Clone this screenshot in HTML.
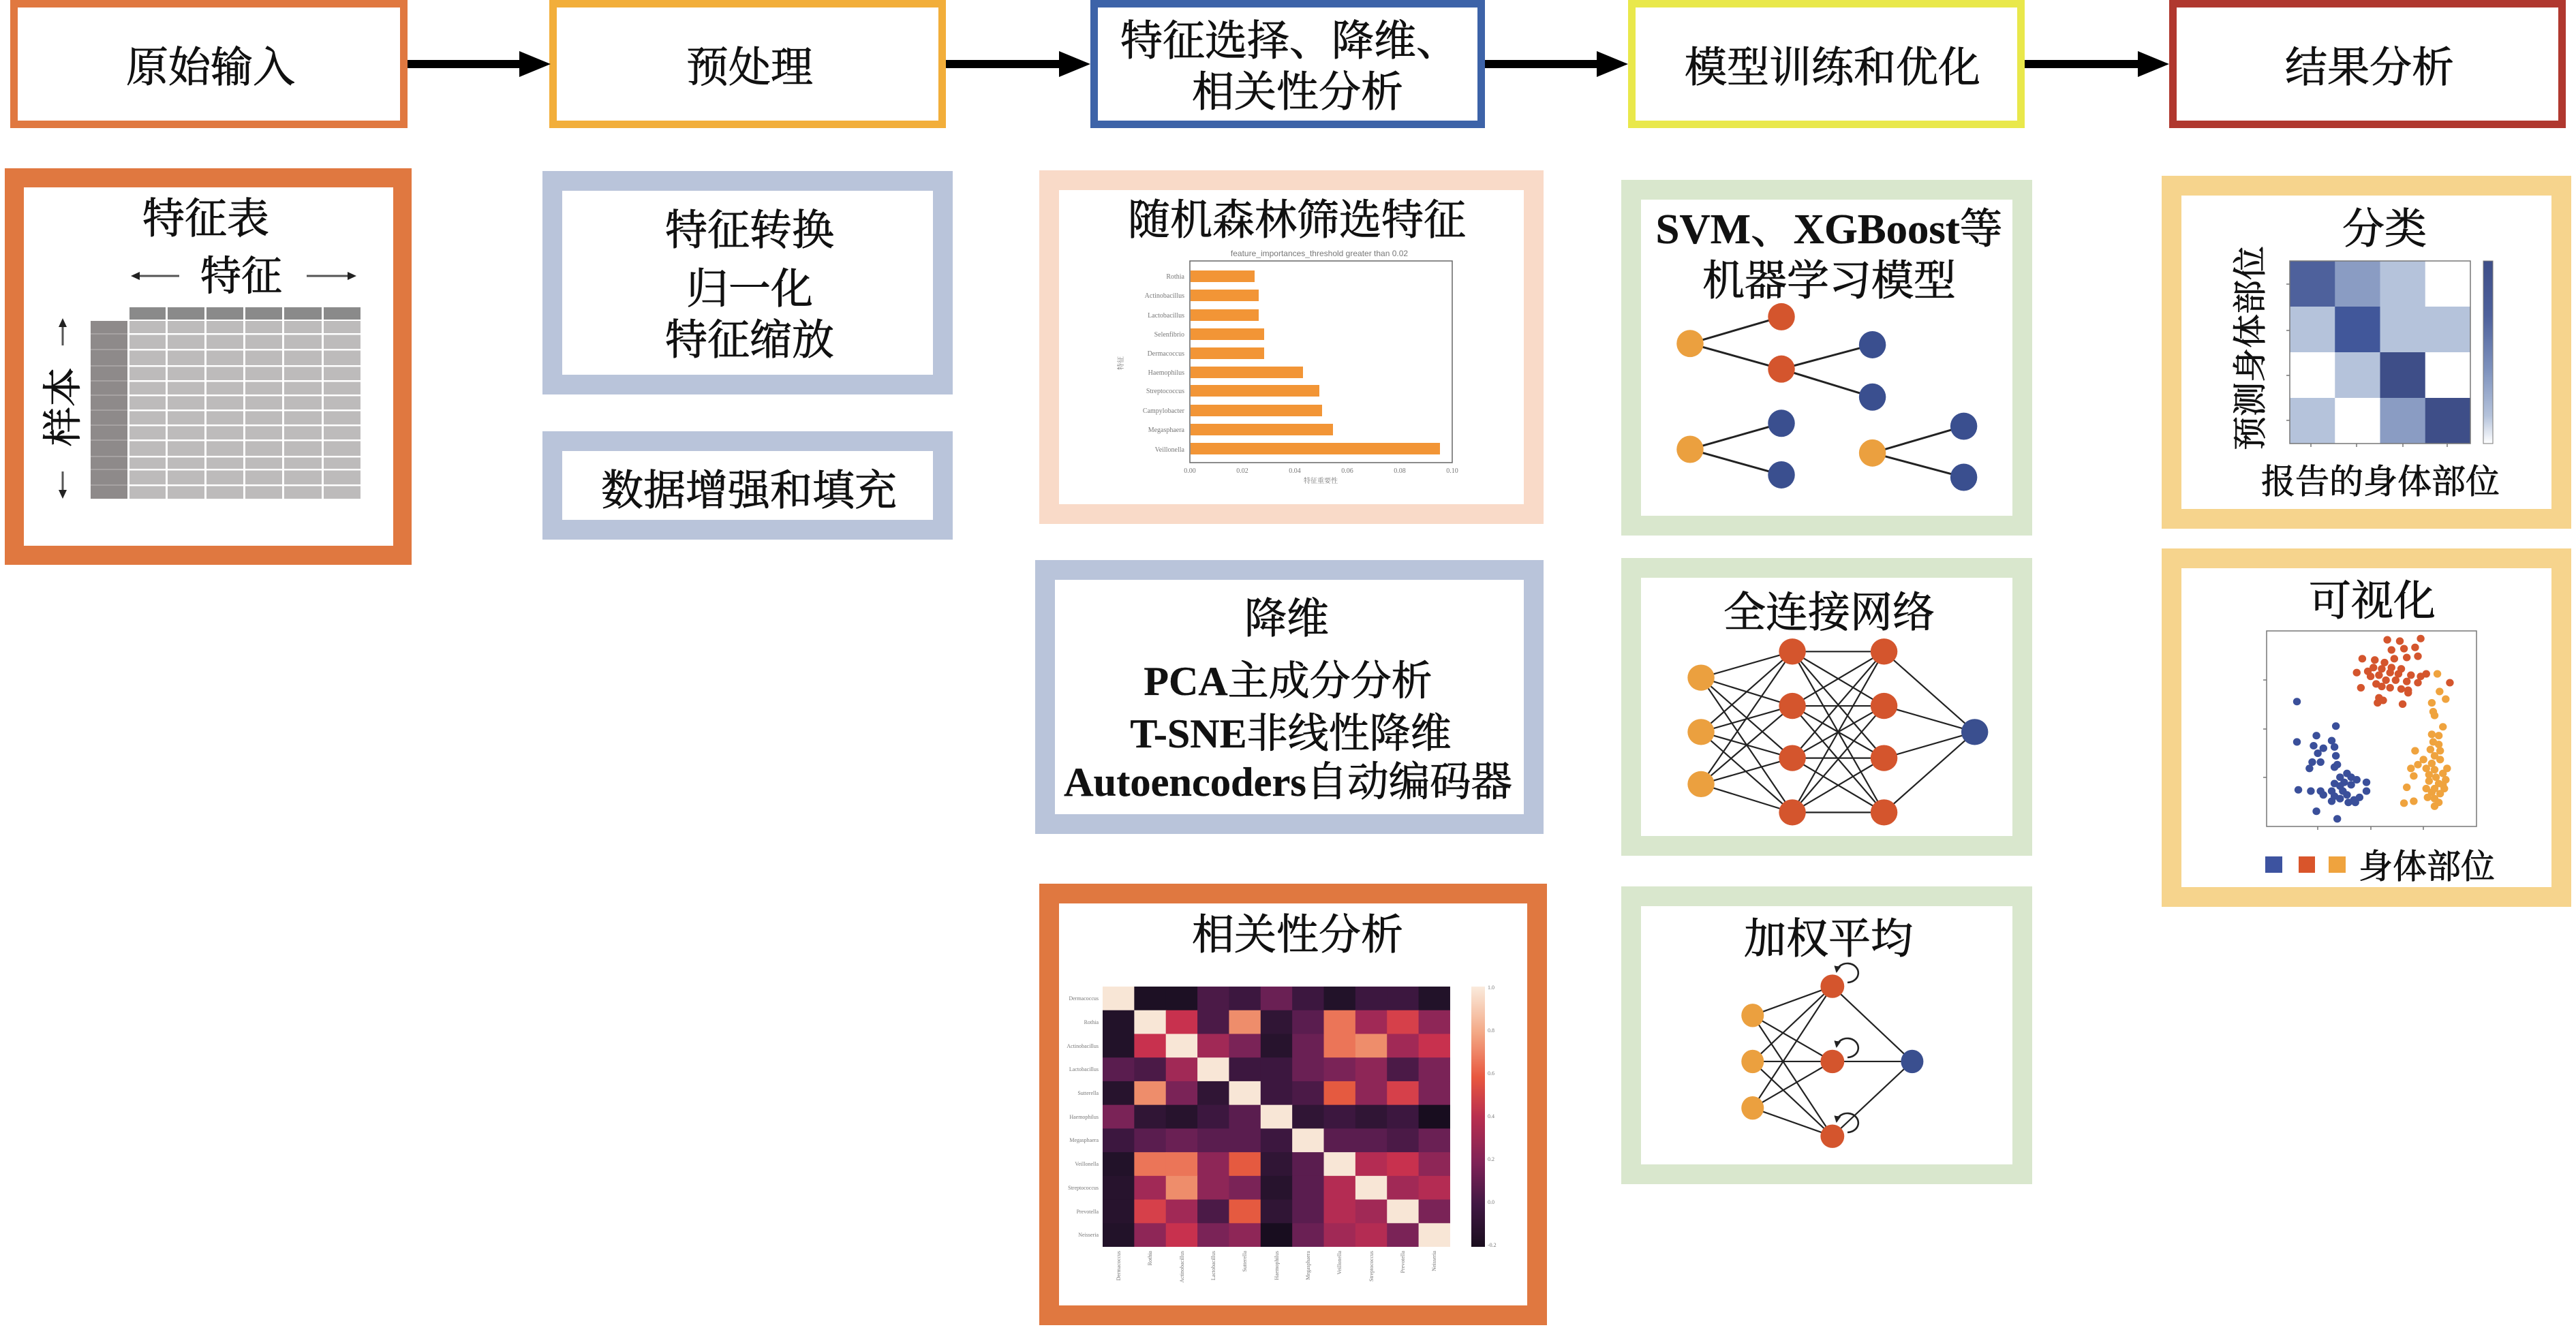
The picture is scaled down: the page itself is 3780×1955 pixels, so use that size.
<!DOCTYPE html>
<html><head><meta charset="utf-8">
<style>
html,body{margin:0;padding:0;background:#fff;}
svg{display:block;}
text{font-family:"Liberation Serif","Noto Serif CJK SC",serif;}
.t{font-size:62px;fill:#111;text-anchor:middle;stroke:#111;stroke-width:0.9px;}
.b{font-weight:bold;stroke-width:0.3px;}
.s{font-family:"Liberation Sans","Noto Sans CJK SC",sans-serif;fill:#777;}
.c{fill:#F8E6D6}.h8{fill:#EE8D6B}.h75{fill:#EB7558}.h7{fill:#E55A40}.h65{fill:#D6404A}.h6{fill:#C8314E}.h55{fill:#B42C53}.h5{fill:#A12956}.h45{fill:#8E2657}.h4{fill:#7A2357}.h35{fill:#6A2054}.h3{fill:#5A1D4F}.h25{fill:#4B1A47}.h2{fill:#3C173F}.h15{fill:#301535}.h1{fill:#27132D}.h08{fill:#221229}.h05{fill:#1D1024}.h02{fill:#180D1F}
.ln{stroke:#222;stroke-width:2.6;fill:none;}
.or{fill:#EBA03F}.rd{fill:#D4552D}.bl{fill:#3A4F8F}
</style></head><body>
<svg width="3780" height="1955" viewBox="0 0 3780 1955" xmlns="http://www.w3.org/2000/svg">
<defs>
<marker id="ah" viewBox="0 0 10 10" refX="8" refY="5" markerWidth="10" markerHeight="10" markerUnits="userSpaceOnUse" orient="auto"><path d="M0,0 L10,5 L0,10 z" fill="#222"/></marker>
<linearGradient id="cbg" x1="0" y1="0" x2="0" y2="1">
<stop offset="0" stop-color="#FAEBDD"/><stop offset="0.18" stop-color="#F3A784"/><stop offset="0.35" stop-color="#E8573F"/><stop offset="0.5" stop-color="#B92F4F"/><stop offset="0.68" stop-color="#7E2257"/><stop offset="0.84" stop-color="#401843"/><stop offset="1" stop-color="#1A0E1E"/>
</linearGradient>
<linearGradient id="cbb" x1="0" y1="0" x2="0" y2="1">
<stop offset="0" stop-color="#3E4E88"/><stop offset="0.3" stop-color="#4E619C"/><stop offset="0.6" stop-color="#7F93BE"/><stop offset="0.85" stop-color="#B5C3DB"/><stop offset="1" stop-color="#FFFFFF"/>
</linearGradient>
</defs>

<!-- Header boxes -->
<rect x="15" y="0" width="583" height="188" fill="#E07840"/><rect x="26" y="11" width="561" height="166" fill="#fff"/>
<rect x="806" y="0" width="582" height="188" fill="#F2AE3A"/><rect x="817" y="11" width="560" height="166" fill="#fff"/>
<rect x="1600" y="0" width="579" height="188" fill="#3D63A8"/><rect x="1611" y="11" width="557" height="166" fill="#fff"/>
<rect x="2389" y="0" width="582" height="188" fill="#E9E84B"/><rect x="2400" y="11" width="560" height="166" fill="#fff"/>
<rect x="3183" y="0" width="582" height="188" fill="#B0382F"/><rect x="3194" y="11" width="560" height="166" fill="#fff"/>

<text class="t" x="309" y="120">原始输入</text>
<text class="t" x="1100" y="120">预处理</text>
<text class="t" x="1892" y="81">特征选择、降维、</text>
<text class="t" x="1904" y="156">相关性分析</text>
<text class="t" x="2689" y="120">模型训练和优化</text>
<text class="t" x="3477" y="120">结果分析</text>

<!-- Header arrows -->
<rect x="598" y="88" width="168" height="12" fill="#000"/><polygon points="762,75 808,94 762,113" fill="#000"/>
<rect x="1388" y="88" width="168" height="12" fill="#000"/><polygon points="1554,75 1600,94 1554,113" fill="#000"/>
<rect x="2179" y="88" width="166" height="12" fill="#000"/><polygon points="2343,75 2389,94 2343,113" fill="#000"/>
<rect x="2971" y="88" width="166" height="12" fill="#000"/><polygon points="3137,75 3183,94 3137,113" fill="#000"/>

<!-- Column 1: feature table -->
<rect x="7" y="247" width="597" height="582" fill="#E07840"/><rect x="35" y="275" width="542" height="526" fill="#fff"/>
<text class="t" x="302" y="342">特征表</text>
<text class="t" x="354" y="426" style="font-size:60px">特征</text>
<line x1="263" y1="405" x2="202" y2="405" stroke="#555" stroke-width="3"/><polygon points="192,405 205,399 205,411" fill="#222"/>
<line x1="450" y1="405" x2="512" y2="405" stroke="#555" stroke-width="3"/><polygon points="523,405 510,399 510,411" fill="#222"/>
<rect x="190" y="451" width="339" height="18" fill="#8A8A8A"/>
<rect x="133" y="471" width="54" height="261" fill="#8E8A8A"/>
<rect x="190" y="471" width="339" height="261" fill="#BDBBBB"/>
<g fill="#fff">
<rect x="243" y="451" width="3" height="281"/><rect x="300" y="451" width="3" height="281"/><rect x="357" y="451" width="3" height="281"/><rect x="414" y="451" width="3" height="281"/><rect x="472" y="451" width="3" height="281"/>
<rect x="190" y="489" width="339" height="2.5"/><rect x="190" y="512" width="339" height="2.5"/><rect x="190" y="536" width="339" height="2.5"/><rect x="190" y="558" width="339" height="2.5"/><rect x="190" y="579" width="339" height="2.5"/><rect x="190" y="601" width="339" height="2.5"/><rect x="190" y="623" width="339" height="2.5"/><rect x="190" y="645" width="339" height="2.5"/><rect x="190" y="669" width="339" height="2.5"/><rect x="190" y="688" width="339" height="2.5"/><rect x="190" y="711" width="339" height="2.5"/>
</g>
<g fill="#A6A2A2">
<rect x="133" y="489" width="54" height="2"/><rect x="133" y="512" width="54" height="2"/><rect x="133" y="536" width="54" height="2"/><rect x="133" y="558" width="54" height="2"/><rect x="133" y="579" width="54" height="2"/><rect x="133" y="601" width="54" height="2"/><rect x="133" y="623" width="54" height="2"/><rect x="133" y="645" width="54" height="2"/><rect x="133" y="669" width="54" height="2"/><rect x="133" y="688" width="54" height="2"/><rect x="133" y="711" width="54" height="2"/>
</g>
<text class="t" transform="translate(90,597) rotate(-90)" y="22" style="font-size:58px">样本</text>
<line x1="92" y1="507" x2="92" y2="478" stroke="#555" stroke-width="3"/><polygon points="92,467 86,480 98,480" fill="#222"/>
<line x1="92" y1="692" x2="92" y2="721" stroke="#555" stroke-width="3"/><polygon points="92,732 86,719 98,719" fill="#222"/>

<!-- Column 2 -->
<rect x="796" y="251" width="602" height="328" fill="#B9C4DA"/><rect x="825" y="280" width="544" height="270" fill="#fff"/>
<text class="t" x="1100" y="359">特征转换</text>
<text class="t" x="1100" y="445">归一化</text>
<text class="t" x="1100" y="520">特征缩放</text>
<rect x="796" y="633" width="602" height="159" fill="#B9C4DA"/><rect x="825" y="662" width="544" height="101" fill="#fff"/>
<text class="t" x="1099" y="741">数据增强和填充</text>

<!-- Column 3: random forest -->
<rect x="1525" y="250" width="740" height="519" fill="#F9DAC8"/><rect x="1554" y="279" width="682" height="461" fill="#fff"/>
<text class="t" x="1903" y="344">随机森林筛选特征</text>
<text class="s" x="1936" y="376" font-size="12" text-anchor="middle">feature_importances_threshold greater than 0.02</text>
<g fill="#F29536">
<rect x="1747" y="397" width="94" height="17"/>
<rect x="1747" y="425" width="100" height="17"/>
<rect x="1747" y="454" width="100" height="17"/>
<rect x="1747" y="482" width="108" height="17"/>
<rect x="1747" y="510" width="108" height="17"/>
<rect x="1747" y="538" width="165" height="17"/>
<rect x="1747" y="565" width="189" height="17"/>
<rect x="1747" y="594" width="193" height="17"/>
<rect x="1747" y="622" width="209" height="17"/>
<rect x="1747" y="650" width="366" height="17"/>
</g>
<rect x="1746" y="383" width="385" height="296" fill="none" stroke="#666" stroke-width="1.5"/>
<g class="s" font-size="10" text-anchor="end">
<text x="1738" y="409">Rothia</text><text x="1738" y="437">Actinobacillus</text><text x="1738" y="466">Lactobacillus</text><text x="1738" y="494">Selenfibrio</text><text x="1738" y="522">Dermacoccus</text><text x="1738" y="550">Haemophilus</text><text x="1738" y="577">Streptococcus</text><text x="1738" y="606">Campylobacter</text><text x="1738" y="634">Megasphaera</text><text x="1738" y="663">Veillonella</text>
</g>
<g class="s" font-size="10" text-anchor="middle">
<text x="1746" y="694">0.00</text><text x="1823" y="694">0.02</text><text x="1900" y="694">0.04</text><text x="1977" y="694">0.06</text><text x="2054" y="694">0.08</text><text x="2131" y="694">0.10</text>
<text x="1938" y="709">特征重要性</text>
<text transform="translate(1648,533) rotate(-90)">特征</text>
</g>

<!-- Column 3: dimension reduction -->
<rect x="1519" y="822" width="746" height="402" fill="#B9C4DA"/><rect x="1548" y="851" width="688" height="344" fill="#fff"/>
<text class="t" x="1888" y="929">降维</text>
<text class="t" x="1890" y="1020" style="font-size:60px"><tspan class="b">PCA</tspan>主成分分析</text>
<text class="t" x="1894" y="1097" style="font-size:60px"><tspan class="b">T-SNE</tspan>非线性降维</text>
<text class="t" x="1890" y="1168" style="font-size:60px" textLength="658" lengthAdjust="spacingAndGlyphs"><tspan class="b">Autoencoders</tspan>自动编码器</text>

<!-- Column 3: heatmap -->
<rect x="1525" y="1297" width="745" height="648" fill="#E07840"/><rect x="1554" y="1326" width="687" height="590" fill="#fff"/>
<text class="t" x="1904" y="1393">相关性分析</text>
<g transform="translate(1618,1448) scale(46.36,34.73)">
<rect x="0" y="0" width="1.02" height="1.02" class="c"/><rect x="1" y="0" width="1.02" height="1.02" class="h05"/><rect x="2" y="0" width="1.02" height="1.02" class="h05"/><rect x="3" y="0" width="1.02" height="1.02" class="h25"/><rect x="4" y="0" width="1.02" height="1.02" class="h2"/><rect x="5" y="0" width="1.02" height="1.02" class="h35"/><rect x="6" y="0" width="1.02" height="1.02" class="h2"/><rect x="7" y="0" width="1.02" height="1.02" class="h08"/><rect x="8" y="0" width="1.02" height="1.02" class="h2"/><rect x="9" y="0" width="1.02" height="1.02" class="h2"/><rect x="10" y="0" width="1" height="1.02" class="h08"/>
<rect x="0" y="1" width="1.02" height="1.02" class="h08"/><rect x="1" y="1" width="1.02" height="1.02" class="c"/><rect x="2" y="1" width="1.02" height="1.02" class="h6"/><rect x="3" y="1" width="1.02" height="1.02" class="h25"/><rect x="4" y="1" width="1.02" height="1.02" class="h8"/><rect x="5" y="1" width="1.02" height="1.02" class="h15"/><rect x="6" y="1" width="1.02" height="1.02" class="h3"/><rect x="7" y="1" width="1.02" height="1.02" class="h75"/><rect x="8" y="1" width="1.02" height="1.02" class="h5"/><rect x="9" y="1" width="1.02" height="1.02" class="h65"/><rect x="10" y="1" width="1" height="1.02" class="h45"/>
<rect x="0" y="2" width="1.02" height="1.02" class="h08"/><rect x="1" y="2" width="1.02" height="1.02" class="h6"/><rect x="2" y="2" width="1.02" height="1.02" class="c"/><rect x="3" y="2" width="1.02" height="1.02" class="h5"/><rect x="4" y="2" width="1.02" height="1.02" class="h4"/><rect x="5" y="2" width="1.02" height="1.02" class="h1"/><rect x="6" y="2" width="1.02" height="1.02" class="h35"/><rect x="7" y="2" width="1.02" height="1.02" class="h75"/><rect x="8" y="2" width="1.02" height="1.02" class="h8"/><rect x="9" y="2" width="1.02" height="1.02" class="h5"/><rect x="10" y="2" width="1" height="1.02" class="h6"/>
<rect x="0" y="3" width="1.02" height="1.02" class="h3"/><rect x="1" y="3" width="1.02" height="1.02" class="h25"/><rect x="2" y="3" width="1.02" height="1.02" class="h5"/><rect x="3" y="3" width="1.02" height="1.02" class="c"/><rect x="4" y="3" width="1.02" height="1.02" class="h2"/><rect x="5" y="3" width="1.02" height="1.02" class="h2"/><rect x="6" y="3" width="1.02" height="1.02" class="h35"/><rect x="7" y="3" width="1.02" height="1.02" class="h4"/><rect x="8" y="3" width="1.02" height="1.02" class="h45"/><rect x="9" y="3" width="1.02" height="1.02" class="h25"/><rect x="10" y="3" width="1" height="1.02" class="h4"/>
<rect x="0" y="4" width="1.02" height="1.02" class="h1"/><rect x="1" y="4" width="1.02" height="1.02" class="h8"/><rect x="2" y="4" width="1.02" height="1.02" class="h4"/><rect x="3" y="4" width="1.02" height="1.02" class="h15"/><rect x="4" y="4" width="1.02" height="1.02" class="c"/><rect x="5" y="4" width="1.02" height="1.02" class="h2"/><rect x="6" y="4" width="1.02" height="1.02" class="h25"/><rect x="7" y="4" width="1.02" height="1.02" class="h7"/><rect x="8" y="4" width="1.02" height="1.02" class="h45"/><rect x="9" y="4" width="1.02" height="1.02" class="h65"/><rect x="10" y="4" width="1" height="1.02" class="h4"/>
<rect x="0" y="5" width="1.02" height="1.02" class="h4"/><rect x="1" y="5" width="1.02" height="1.02" class="h15"/><rect x="2" y="5" width="1.02" height="1.02" class="h1"/><rect x="3" y="5" width="1.02" height="1.02" class="h2"/><rect x="4" y="5" width="1.02" height="1.02" class="h3"/><rect x="5" y="5" width="1.02" height="1.02" class="c"/><rect x="6" y="5" width="1.02" height="1.02" class="h15"/><rect x="7" y="5" width="1.02" height="1.02" class="h2"/><rect x="8" y="5" width="1.02" height="1.02" class="h15"/><rect x="9" y="5" width="1.02" height="1.02" class="h2"/><rect x="10" y="5" width="1" height="1.02" class="h02"/>
<rect x="0" y="6" width="1.02" height="1.02" class="h2"/><rect x="1" y="6" width="1.02" height="1.02" class="h3"/><rect x="2" y="6" width="1.02" height="1.02" class="h35"/><rect x="3" y="6" width="1.02" height="1.02" class="h3"/><rect x="4" y="6" width="1.02" height="1.02" class="h3"/><rect x="5" y="6" width="1.02" height="1.02" class="h2"/><rect x="6" y="6" width="1.02" height="1.02" class="c"/><rect x="7" y="6" width="1.02" height="1.02" class="h3"/><rect x="8" y="6" width="1.02" height="1.02" class="h3"/><rect x="9" y="6" width="1.02" height="1.02" class="h25"/><rect x="10" y="6" width="1" height="1.02" class="h35"/>
<rect x="0" y="7" width="1.02" height="1.02" class="h08"/><rect x="1" y="7" width="1.02" height="1.02" class="h75"/><rect x="2" y="7" width="1.02" height="1.02" class="h75"/><rect x="3" y="7" width="1.02" height="1.02" class="h45"/><rect x="4" y="7" width="1.02" height="1.02" class="h7"/><rect x="5" y="7" width="1.02" height="1.02" class="h15"/><rect x="6" y="7" width="1.02" height="1.02" class="h3"/><rect x="7" y="7" width="1.02" height="1.02" class="c"/><rect x="8" y="7" width="1.02" height="1.02" class="h55"/><rect x="9" y="7" width="1.02" height="1.02" class="h6"/><rect x="10" y="7" width="1" height="1.02" class="h45"/>
<rect x="0" y="8" width="1.02" height="1.02" class="h1"/><rect x="1" y="8" width="1.02" height="1.02" class="h5"/><rect x="2" y="8" width="1.02" height="1.02" class="h8"/><rect x="3" y="8" width="1.02" height="1.02" class="h45"/><rect x="4" y="8" width="1.02" height="1.02" class="h4"/><rect x="5" y="8" width="1.02" height="1.02" class="h1"/><rect x="6" y="8" width="1.02" height="1.02" class="h3"/><rect x="7" y="8" width="1.02" height="1.02" class="h55"/><rect x="8" y="8" width="1.02" height="1.02" class="c"/><rect x="9" y="8" width="1.02" height="1.02" class="h5"/><rect x="10" y="8" width="1" height="1.02" class="h55"/>
<rect x="0" y="9" width="1.02" height="1.02" class="h1"/><rect x="1" y="9" width="1.02" height="1.02" class="h65"/><rect x="2" y="9" width="1.02" height="1.02" class="h5"/><rect x="3" y="9" width="1.02" height="1.02" class="h25"/><rect x="4" y="9" width="1.02" height="1.02" class="h7"/><rect x="5" y="9" width="1.02" height="1.02" class="h15"/><rect x="6" y="9" width="1.02" height="1.02" class="h3"/><rect x="7" y="9" width="1.02" height="1.02" class="h55"/><rect x="8" y="9" width="1.02" height="1.02" class="h5"/><rect x="9" y="9" width="1.02" height="1.02" class="c"/><rect x="10" y="9" width="1" height="1.02" class="h4"/>
<rect x="0" y="10" width="1.02" height="1" class="h08"/><rect x="1" y="10" width="1.02" height="1" class="h45"/><rect x="2" y="10" width="1.02" height="1" class="h6"/><rect x="3" y="10" width="1.02" height="1" class="h4"/><rect x="4" y="10" width="1.02" height="1" class="h45"/><rect x="5" y="10" width="1.02" height="1" class="h02"/><rect x="6" y="10" width="1.02" height="1" class="h35"/><rect x="7" y="10" width="1.02" height="1" class="h5"/><rect x="8" y="10" width="1.02" height="1" class="h55"/><rect x="9" y="10" width="1.02" height="1" class="h4"/><rect x="10" y="10" width="1" height="1" class="c"/>
</g>
<rect x="2159" y="1448" width="20" height="382" fill="url(#cbg)"/>
<g class="s" font-size="8">
<text x="2183" y="1452">1.0</text><text x="2183" y="1515">0.8</text><text x="2183" y="1578">0.6</text><text x="2183" y="1641">0.4</text><text x="2183" y="1704">0.2</text><text x="2183" y="1767">0.0</text><text x="2183" y="1830">-0.2</text>
</g>
<g class="s" font-size="8" text-anchor="end">
<text x="1612" y="1468">Dermacoccus</text><text x="1612" y="1503">Rothia</text><text x="1612" y="1538">Actinobacillus</text><text x="1612" y="1572">Lactobacillus</text><text x="1612" y="1607">Sutterella</text><text x="1612" y="1642">Haemophilus</text><text x="1612" y="1676">Megasphaera</text><text x="1612" y="1711">Veillonella</text><text x="1612" y="1746">Streptococcus</text><text x="1612" y="1781">Prevotella</text><text x="1612" y="1815">Neisseria</text>
</g>
<g class="s" font-size="8" text-anchor="end">
<text transform="translate(1644,1836) rotate(-90)">Dermacoccus</text><text transform="translate(1690,1836) rotate(-90)">Rothia</text><text transform="translate(1737,1836) rotate(-90)">Actinobacillus</text><text transform="translate(1783,1836) rotate(-90)">Lactobacillus</text><text transform="translate(1829,1836) rotate(-90)">Sutterella</text><text transform="translate(1876,1836) rotate(-90)">Haemophilus</text><text transform="translate(1922,1836) rotate(-90)">Megasphaera</text><text transform="translate(1968,1836) rotate(-90)">Veillonella</text><text transform="translate(2015,1836) rotate(-90)">Streptococcus</text><text transform="translate(2061,1836) rotate(-90)">Prevotella</text><text transform="translate(2107,1836) rotate(-90)">Neisseria</text>
</g>

<!-- Column 4: SVM / trees -->
<rect x="2379" y="264" width="603" height="522" fill="#D9E7CD"/><rect x="2408" y="293" width="545" height="464" fill="#fff"/>
<text class="t" x="2684" y="357" textLength="509" lengthAdjust="spacingAndGlyphs"><tspan class="b">SVM</tspan>、<tspan class="b">XGBoost</tspan>等</text>
<text class="t" x="2684" y="433">机器学习模型</text>
<g transform="translate(2340,240) scale(0.459,0.357)">
<g stroke="#222" stroke-width="3" fill="none">
<line x1="305" y1="740" x2="597" y2="630" vector-effect="non-scaling-stroke"/>
<line x1="305" y1="740" x2="597" y2="845" vector-effect="non-scaling-stroke"/>
<line x1="597" y1="845" x2="888" y2="745" vector-effect="non-scaling-stroke"/>
<line x1="597" y1="845" x2="888" y2="960" vector-effect="non-scaling-stroke"/>
<line x1="305" y1="1175" x2="597" y2="1068" vector-effect="non-scaling-stroke"/>
<line x1="305" y1="1175" x2="597" y2="1280" vector-effect="non-scaling-stroke"/>
<line x1="888" y1="1190" x2="1180" y2="1080" vector-effect="non-scaling-stroke"/>
<line x1="888" y1="1190" x2="1180" y2="1290" vector-effect="non-scaling-stroke"/>
</g>
<ellipse class="or" cx="305" cy="740" rx="43" ry="56"/><ellipse class="or" cx="305" cy="1175" rx="43" ry="56"/><ellipse class="or" cx="888" cy="1190" rx="43" ry="56"/>
<ellipse class="rd" cx="597" cy="630" rx="43" ry="56"/><ellipse class="rd" cx="597" cy="845" rx="43" ry="56"/>
<ellipse class="bl" cx="888" cy="745" rx="43" ry="56"/><ellipse class="bl" cx="888" cy="960" rx="43" ry="56"/><ellipse class="bl" cx="597" cy="1068" rx="43" ry="56"/><ellipse class="bl" cx="597" cy="1280" rx="43" ry="56"/><ellipse class="bl" cx="1180" cy="1080" rx="43" ry="56"/><ellipse class="bl" cx="1180" cy="1290" rx="43" ry="56"/>
</g>

<!-- Column 4: fully connected -->
<rect x="2379" y="819" width="603" height="437" fill="#D9E7CD"/><rect x="2408" y="848" width="545" height="379" fill="#fff"/>
<text class="t" x="2684" y="920">全连接网络</text>
<g transform="translate(2340,800) scale(0.459,0.638)">
<g stroke="#222" fill="none">
<path vector-effect="non-scaling-stroke" stroke-width="2.2" d="M340 305L632 245M340 305L632 370M340 305L632 490M340 305L632 615M340 430L632 245M340 430L632 370M340 430L632 490M340 430L632 615M340 550L632 245M340 550L632 370M340 550L632 490M340 550L632 615M632 245L925 245M632 245L925 370M632 245L925 490M632 245L925 615M632 370L925 245M632 370L925 370M632 370L925 490M632 370L925 615M632 490L925 245M632 490L925 370M632 490L925 490M632 490L925 615M632 615L925 245M632 615L925 370M632 615L925 490M632 615L925 615M925 245L1215 430M925 370L1215 430M925 490L1215 430M925 615L1215 430"/>
</g>
<ellipse class="or" cx="340" cy="305" rx="43" ry="30"/><ellipse class="or" cx="340" cy="430" rx="43" ry="30"/><ellipse class="or" cx="340" cy="550" rx="43" ry="30"/>
<ellipse class="rd" cx="632" cy="245" rx="43" ry="30"/><ellipse class="rd" cx="632" cy="370" rx="43" ry="30"/><ellipse class="rd" cx="632" cy="490" rx="43" ry="30"/><ellipse class="rd" cx="632" cy="615" rx="43" ry="30"/>
<ellipse class="rd" cx="925" cy="245" rx="43" ry="30"/><ellipse class="rd" cx="925" cy="370" rx="43" ry="30"/><ellipse class="rd" cx="925" cy="490" rx="43" ry="30"/><ellipse class="rd" cx="925" cy="615" rx="43" ry="30"/>
<ellipse class="bl" cx="1215" cy="430" rx="43" ry="30"/>
</g>

<!-- Column 4: weighted average -->
<rect x="2379" y="1301" width="603" height="437" fill="#D9E7CD"/><rect x="2408" y="1330" width="545" height="379" fill="#fff"/>
<text class="t" x="2683" y="1399">加权平均</text>
<g transform="translate(2340,800) scale(0.459,0.638)">
<path vector-effect="non-scaling-stroke" stroke="#222" stroke-width="2.2" fill="none" d="M505 1082L760 1015M505 1082L760 1188M505 1082L760 1360M505 1188L760 1015M505 1188L760 1188M505 1188L760 1360M505 1295L760 1015M505 1295L760 1188M505 1295L760 1360M760 1015L1015 1188M760 1188L1015 1188M760 1360L1015 1188"/>
<ellipse class="or" cx="505" cy="1082" rx="36" ry="27"/><ellipse class="or" cx="505" cy="1188" rx="36" ry="27"/><ellipse class="or" cx="505" cy="1295" rx="36" ry="27"/>
<ellipse class="rd" cx="760" cy="1015" rx="38" ry="27"/><ellipse class="rd" cx="760" cy="1188" rx="38" ry="27"/><ellipse class="rd" cx="760" cy="1360" rx="38" ry="27"/>
<ellipse class="bl" cx="1015" cy="1188" rx="36" ry="27"/>
</g>
<path class="ln" stroke-width="2" d="M2711,1442 A16 14 0 1 0 2695,1426" marker-end="url(#ah)"/>
<path class="ln" stroke-width="2" d="M2711,1552 A16 14 0 1 0 2695,1536" marker-end="url(#ah)"/>
<path class="ln" stroke-width="2" d="M2711,1662 A16 14 0 1 0 2695,1646" marker-end="url(#ah)"/>

<!-- Column 5: classification -->
<rect x="3172" y="258" width="601" height="518" fill="#F6D48D"/><rect x="3201" y="287" width="543" height="460" fill="#fff"/>
<text class="t" x="3499" y="357">分类</text>
<g transform="translate(3360,383) scale(66.25,67)">
<rect x="0" y="0" width="1.01" height="1.01" fill="#4E619C"/><rect x="1" y="0" width="1.01" height="1.01" fill="#8A9CC3"/><rect x="2" y="0" width="1.01" height="1.01" fill="#B5C3DB"/><rect x="3" y="0" width="1" height="1.01" fill="#FFFFFF"/>
<rect x="0" y="1" width="1.01" height="1.01" fill="#B5C3DB"/><rect x="1" y="1" width="1.01" height="1.01" fill="#41579A"/><rect x="2" y="1" width="1.01" height="1.01" fill="#B5C3DB"/><rect x="3" y="1" width="1" height="1.01" fill="#B5C3DB"/>
<rect x="0" y="2" width="1.01" height="1.01" fill="#FFFFFF"/><rect x="1" y="2" width="1.01" height="1.01" fill="#B5C3DB"/><rect x="2" y="2" width="1.01" height="1.01" fill="#3E4E88"/><rect x="3" y="2" width="1" height="1.01" fill="#FFFFFF"/>
<rect x="0" y="3" width="1.01" height="1" fill="#B5C3DB"/><rect x="1" y="3" width="1.01" height="1" fill="#FFFFFF"/><rect x="2" y="3" width="1.01" height="1" fill="#8A9CC3"/><rect x="3" y="3" width="1" height="1" fill="#3E4E88"/>
</g>
<rect x="3360" y="383" width="265" height="268" fill="none" stroke="#777" stroke-width="1.5"/>
<path stroke="#777" stroke-width="1.5" d="M3355 417H3360M3355 485H3360M3355 551H3360M3355 617H3360M3391 651V656M3458 651V656M3526 651V656M3591 651V656"/>
<rect x="3644" y="383" width="14" height="268" fill="url(#cbb)" stroke="#777" stroke-width="1"/>
<text class="t" transform="translate(3300,511) rotate(-90)" y="19" style="font-size:50px">预测身体部位</text>
<text class="t" x="3493" y="724" style="font-size:50px">报告的身体部位</text>

<!-- Column 5: visualization -->
<rect x="3172" y="805" width="601" height="526" fill="#F6D48D"/><rect x="3201" y="834" width="543" height="468" fill="#fff"/>
<text class="t" x="3481" y="903">可视化</text>
<rect x="3326" y="926" width="308" height="287" fill="none" stroke="#777" stroke-width="1.5"/>
<path stroke="#777" stroke-width="1.5" d="M3321 998H3326M3321 1070H3326M3321 1141H3326M3401 1213V1218M3479 1213V1218M3556 1213V1218"/>
<g transform="translate(3140,780) scale(0.408,0.370)">
<g fill="#D4552D">
<ellipse cx="890" cy="430" rx="14" ry="15"/><ellipse cx="935" cy="435" rx="14" ry="15"/><ellipse cx="1010" cy="425" rx="14" ry="15"/><ellipse cx="905" cy="470" rx="14" ry="15"/><ellipse cx="950" cy="465" rx="14" ry="15"/><ellipse cx="990" cy="460" rx="14" ry="15"/><ellipse cx="1000" cy="495" rx="14" ry="15"/><ellipse cx="800" cy="505" rx="14" ry="15"/><ellipse cx="845" cy="510" rx="14" ry="15"/><ellipse cx="880" cy="520" rx="14" ry="15"/><ellipse cx="915" cy="505" rx="14" ry="15"/><ellipse cx="960" cy="500" rx="14" ry="15"/><ellipse cx="840" cy="540" rx="14" ry="15"/><ellipse cx="870" cy="545" rx="14" ry="15"/><ellipse cx="905" cy="540" rx="14" ry="15"/><ellipse cx="940" cy="545" rx="14" ry="15"/><ellipse cx="780" cy="560" rx="14" ry="15"/><ellipse cx="820" cy="555" rx="14" ry="15"/><ellipse cx="860" cy="570" rx="14" ry="15"/><ellipse cx="900" cy="560" rx="14" ry="15"/><ellipse cx="930" cy="565" rx="14" ry="15"/><ellipse cx="975" cy="570" rx="14" ry="15"/><ellipse cx="1010" cy="575" rx="14" ry="15"/><ellipse cx="1030" cy="565" rx="14" ry="15"/><ellipse cx="830" cy="575" rx="14" ry="15"/><ellipse cx="885" cy="590" rx="14" ry="15"/><ellipse cx="920" cy="590" rx="14" ry="15"/><ellipse cx="960" cy="595" rx="14" ry="15"/><ellipse cx="1000" cy="600" rx="14" ry="15"/><ellipse cx="850" cy="605" rx="14" ry="15"/><ellipse cx="870" cy="615" rx="14" ry="15"/><ellipse cx="900" cy="620" rx="14" ry="15"/><ellipse cx="940" cy="625" rx="14" ry="15"/><ellipse cx="965" cy="630" rx="14" ry="15"/><ellipse cx="1115" cy="600" rx="14" ry="15"/><ellipse cx="795" cy="620" rx="14" ry="15"/><ellipse cx="860" cy="660" rx="14" ry="15"/><ellipse cx="875" cy="670" rx="14" ry="15"/><ellipse cx="855" cy="680" rx="14" ry="15"/><ellipse cx="945" cy="685" rx="14" ry="15"/><ellipse cx="965" cy="640" rx="14" ry="15"/>
</g>
<g fill="#3A4F9A">
<ellipse cx="565" cy="675" rx="14" ry="15"/><ellipse cx="705" cy="772" rx="14" ry="15"/><ellipse cx="565" cy="835" rx="14" ry="15"/><ellipse cx="635" cy="810" rx="14" ry="15"/><ellipse cx="690" cy="830" rx="14" ry="15"/><ellipse cx="625" cy="850" rx="14" ry="15"/><ellipse cx="660" cy="860" rx="14" ry="15"/><ellipse cx="700" cy="855" rx="14" ry="15"/><ellipse cx="640" cy="880" rx="14" ry="15"/><ellipse cx="705" cy="890" rx="14" ry="15"/><ellipse cx="620" cy="915" rx="14" ry="15"/><ellipse cx="650" cy="915" rx="14" ry="15"/><ellipse cx="710" cy="925" rx="14" ry="15"/><ellipse cx="610" cy="940" rx="14" ry="15"/><ellipse cx="700" cy="935" rx="14" ry="15"/><ellipse cx="745" cy="960" rx="14" ry="15"/><ellipse cx="720" cy="975" rx="14" ry="15"/><ellipse cx="760" cy="975" rx="14" ry="15"/><ellipse cx="780" cy="985" rx="14" ry="15"/><ellipse cx="735" cy="995" rx="14" ry="15"/><ellipse cx="700" cy="1000" rx="14" ry="15"/><ellipse cx="720" cy="1010" rx="14" ry="15"/><ellipse cx="760" cy="1005" rx="14" ry="15"/><ellipse cx="815" cy="995" rx="14" ry="15"/><ellipse cx="570" cy="1025" rx="14" ry="15"/><ellipse cx="615" cy="1030" rx="14" ry="15"/><ellipse cx="650" cy="1030" rx="14" ry="15"/><ellipse cx="690" cy="1030" rx="14" ry="15"/><ellipse cx="730" cy="1030" rx="14" ry="15"/><ellipse cx="815" cy="1030" rx="14" ry="15"/><ellipse cx="660" cy="1045" rx="14" ry="15"/><ellipse cx="700" cy="1050" rx="14" ry="15"/><ellipse cx="745" cy="1045" rx="14" ry="15"/><ellipse cx="790" cy="1055" rx="14" ry="15"/><ellipse cx="690" cy="1070" rx="14" ry="15"/><ellipse cx="720" cy="1060" rx="14" ry="15"/><ellipse cx="750" cy="1075" rx="14" ry="15"/><ellipse cx="775" cy="1075" rx="14" ry="15"/><ellipse cx="635" cy="1110" rx="14" ry="15"/><ellipse cx="710" cy="1140" rx="14" ry="15"/><ellipse cx="770" cy="1065" rx="14" ry="15"/>
</g>
<g fill="#EFA33E">
<ellipse cx="1070" cy="565" rx="14" ry="15"/><ellipse cx="1078" cy="635" rx="14" ry="15"/><ellipse cx="1050" cy="680" rx="14" ry="15"/><ellipse cx="1100" cy="665" rx="14" ry="15"/><ellipse cx="1055" cy="715" rx="14" ry="15"/><ellipse cx="1060" cy="730" rx="14" ry="15"/><ellipse cx="1090" cy="775" rx="14" ry="15"/><ellipse cx="1050" cy="805" rx="14" ry="15"/><ellipse cx="1075" cy="810" rx="14" ry="15"/><ellipse cx="1055" cy="835" rx="14" ry="15"/><ellipse cx="1075" cy="845" rx="14" ry="15"/><ellipse cx="990" cy="870" rx="14" ry="15"/><ellipse cx="1045" cy="865" rx="14" ry="15"/><ellipse cx="1080" cy="870" rx="14" ry="15"/><ellipse cx="1060" cy="890" rx="14" ry="15"/><ellipse cx="1020" cy="905" rx="14" ry="15"/><ellipse cx="1080" cy="905" rx="14" ry="15"/><ellipse cx="1050" cy="920" rx="14" ry="15"/><ellipse cx="1000" cy="925" rx="14" ry="15"/><ellipse cx="1030" cy="940" rx="14" ry="15"/><ellipse cx="975" cy="940" rx="14" ry="15"/><ellipse cx="1105" cy="940" rx="14" ry="15"/><ellipse cx="1060" cy="945" rx="14" ry="15"/><ellipse cx="1090" cy="960" rx="14" ry="15"/><ellipse cx="985" cy="970" rx="14" ry="15"/><ellipse cx="1040" cy="965" rx="14" ry="15"/><ellipse cx="1065" cy="975" rx="14" ry="15"/><ellipse cx="1100" cy="985" rx="14" ry="15"/><ellipse cx="1040" cy="990" rx="14" ry="15"/><ellipse cx="1075" cy="1000" rx="14" ry="15"/><ellipse cx="1090" cy="1005" rx="14" ry="15"/><ellipse cx="960" cy="1015" rx="14" ry="15"/><ellipse cx="1030" cy="1020" rx="14" ry="15"/><ellipse cx="1060" cy="1020" rx="14" ry="15"/><ellipse cx="1095" cy="1020" rx="14" ry="15"/><ellipse cx="1050" cy="1035" rx="14" ry="15"/><ellipse cx="1080" cy="1040" rx="14" ry="15"/><ellipse cx="1035" cy="1055" rx="14" ry="15"/><ellipse cx="1060" cy="1060" rx="14" ry="15"/><ellipse cx="985" cy="1070" rx="14" ry="15"/><ellipse cx="950" cy="1078" rx="14" ry="15"/><ellipse cx="1075" cy="1075" rx="14" ry="15"/><ellipse cx="1060" cy="1090" rx="14" ry="15"/>
</g>
</g>
<rect x="3324" y="1257" width="25" height="24" fill="#3D53A0"/>
<rect x="3373" y="1257" width="24" height="24" fill="#D9552B"/>
<rect x="3417" y="1257" width="25" height="24" fill="#EFA33E"/>
<text class="t" x="3561" y="1289" style="font-size:50px">身体部位</text>
</svg>
</body></html>
